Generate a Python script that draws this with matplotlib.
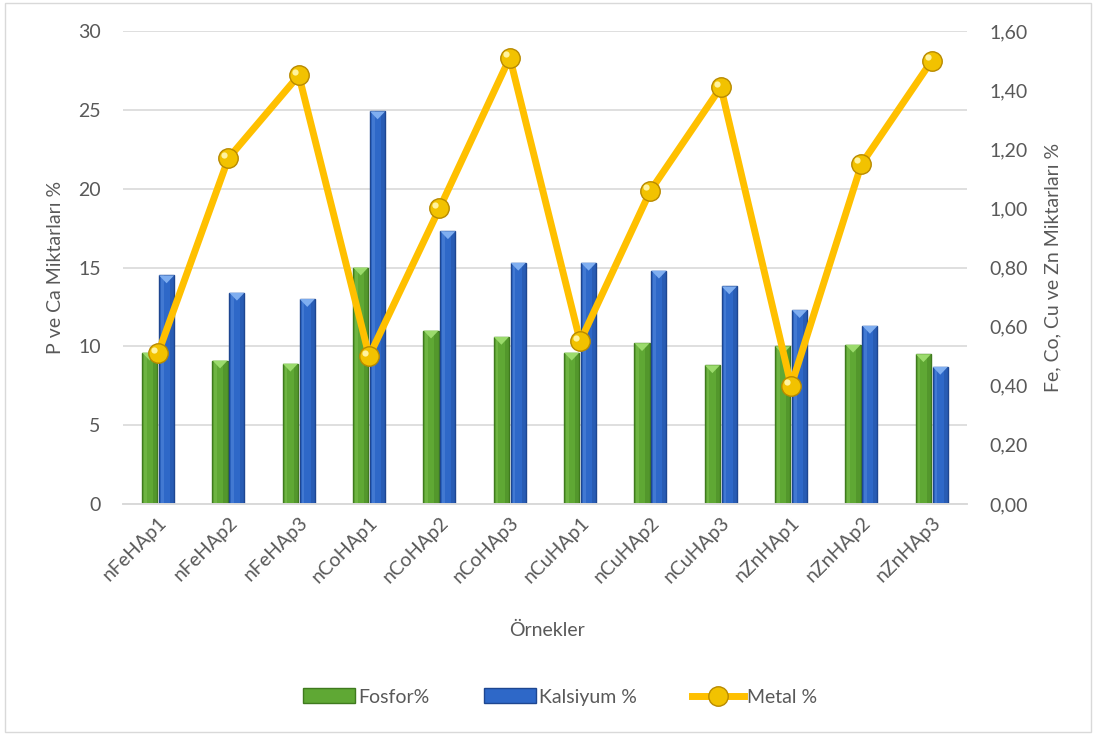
import matplotlib
matplotlib.use("Agg")
import matplotlib.pyplot as plt
from matplotlib.patches import Rectangle, Polygon, Patch
from matplotlib.lines import Line2D
import numpy as np

plt.rcParams['font.family'] = ['Lato', 'DejaVu Sans']

samples = ["nFeHAp1", "nFeHAp2", "nFeHAp3", "nCoHAp1", "nCoHAp2", "nCoHAp3",
           "nCuHAp1", "nCuHAp2", "nCuHAp3", "nZnHAp1", "nZnHAp2", "nZnHAp3"]
fosfor = [9.6, 9.1, 8.9, 15.0, 11.0, 10.6, 9.6, 10.2, 8.8, 10.0, 10.1, 9.5]
kalsiyum = [14.5, 13.4, 13.0, 24.9, 17.3, 15.3, 15.3, 14.8, 13.8, 12.3, 11.3, 8.7]
metal = [0.51, 1.17, 1.45, 0.50, 1.00, 1.51, 0.55, 1.06, 1.41, 0.40, 1.15, 1.50]

left_ticks = [0, 5, 10, 15, 20, 25, 30]
right_ticks = [0.0, 0.2, 0.4, 0.6, 0.8, 1.0, 1.2, 1.4, 1.6]

TXT = "#595959"
FS = 14
GREEN, GREEN_DK, GREEN_LT = "#5FA834", "#3F7A1E", "#9BDB6C"
BLUE, BLUE_DK, BLUE_LT = "#2E68C8", "#1E4690", "#7FAEF0"
GOLD, GOLD_DK = "#FFC000", "#B88A00"

fig = plt.figure(figsize=(10.96, 7.35), dpi=100)
fig.patches.append(Rectangle((0.005, 0.004), 0.99, 0.992, transform=fig.transFigure,
                             fill=False, edgecolor="#D9D9D9", linewidth=1.0))

ax = fig.add_axes([0.1122, 0.3143, 0.7701, 0.6435])
ax2 = ax.twinx()

x = np.arange(len(samples))
w = 0.215
gap = 0.025


def bevel_bar(axis, xc, h, color, dark, light):
    left = xc - w / 2
    axis.add_patch(Rectangle((left, 0), w, h, facecolor=color, edgecolor=dark,
                             linewidth=1.0, zorder=2))
    # darker right shading and lighter left highlight for a rounded look
    axis.add_patch(Rectangle((left + w * 0.72, 0), w * 0.28, h, facecolor=dark,
                             alpha=0.35, linewidth=0, zorder=2.1))
    axis.add_patch(Rectangle((left + w * 0.12, 0), w * 0.18, h, facecolor=light,
                             alpha=0.25, linewidth=0, zorder=2.1))
    d = 0.5
    axis.add_patch(Polygon([(left, h), (left + w, h), (xc, h - d)], closed=True,
                           facecolor=light, edgecolor="none", zorder=2.2))


for xi, f, k in zip(x, fosfor, kalsiyum):
    bevel_bar(ax, xi - w / 2 - gap / 2, f, GREEN, GREEN_DK, GREEN_LT)
    bevel_bar(ax, xi + w / 2 + gap / 2, k, BLUE, BLUE_DK, BLUE_LT)

ax.set_xlim(-0.5, len(samples) - 0.5)
ax.set_ylim(0, 30)
ax.set_yticks(left_ticks)
ax.yaxis.grid(True, color="#D9D9D9", linewidth=1.2, zorder=0)
ax.set_axisbelow(True)
ax.set_xticks(x)
ax.set_xticklabels(samples, rotation=45, ha="right", rotation_mode="anchor",
                   fontsize=FS, color=TXT)
ax.tick_params(axis="x", length=0, pad=7)
ax.tick_params(axis="y", length=0, labelsize=FS, labelcolor=TXT, pad=16)

ax2.plot(x, metal, color=GOLD, linewidth=5, solid_joinstyle="round", zorder=3,
         marker="o", markersize=14, markerfacecolor="#F2C200",
         markeredgecolor=GOLD_DK, markeredgewidth=1.0)
ax2.plot(x - 0.06, np.array(metal) + 0.012, linestyle="none", marker="o",
         markersize=4.5, markerfacecolor="#FFF3A0", markeredgewidth=0, zorder=4)
ax2.set_ylim(0, 1.6)
ax2.set_yticks(right_ticks)
ax2.set_yticklabels([f"{v:.2f}".replace(".", ",") for v in right_ticks])
ax2.tick_params(axis="y", length=0, labelsize=FS, labelcolor=TXT, pad=16)

for a in (ax, ax2):
    for s in ("top", "left", "right"):
        a.spines[s].set_visible(False)
    a.spines["bottom"].set_color("#D9D9D9")
    a.spines["bottom"].set_linewidth(1.2)

ax.set_ylabel("P ve Ca Miktarları %", fontsize=FS, color=TXT, labelpad=10)
ax2.set_ylabel("Fe, Co, Cu ve Zn Miktarları %", fontsize=FS, color=TXT,
               rotation=90, labelpad=12)
fig.text(0.4995, 1 - 630 / 735, "Örnekler", ha="center", va="center",
         fontsize=FS, color=TXT)

handles = [
    Patch(facecolor=GREEN, edgecolor=GREEN_DK),
    Patch(facecolor=BLUE, edgecolor=BLUE_DK),
    Line2D([0], [0], color=GOLD, linewidth=5, marker="o", markersize=14,
           markerfacecolor="#F2C200", markeredgecolor=GOLD_DK),
]
fig.legend(handles, ["Fosfor%", "Kalsiyum %", "Metal %"], loc="center",
           bbox_to_anchor=(0.511, 1 - 697 / 735), ncol=3, frameon=False,
           fontsize=FS, labelcolor=TXT, handlelength=2.7, handleheight=0.8,
           handletextpad=0.15, columnspacing=2.8)

fig.savefig("out.png", dpi=100)
